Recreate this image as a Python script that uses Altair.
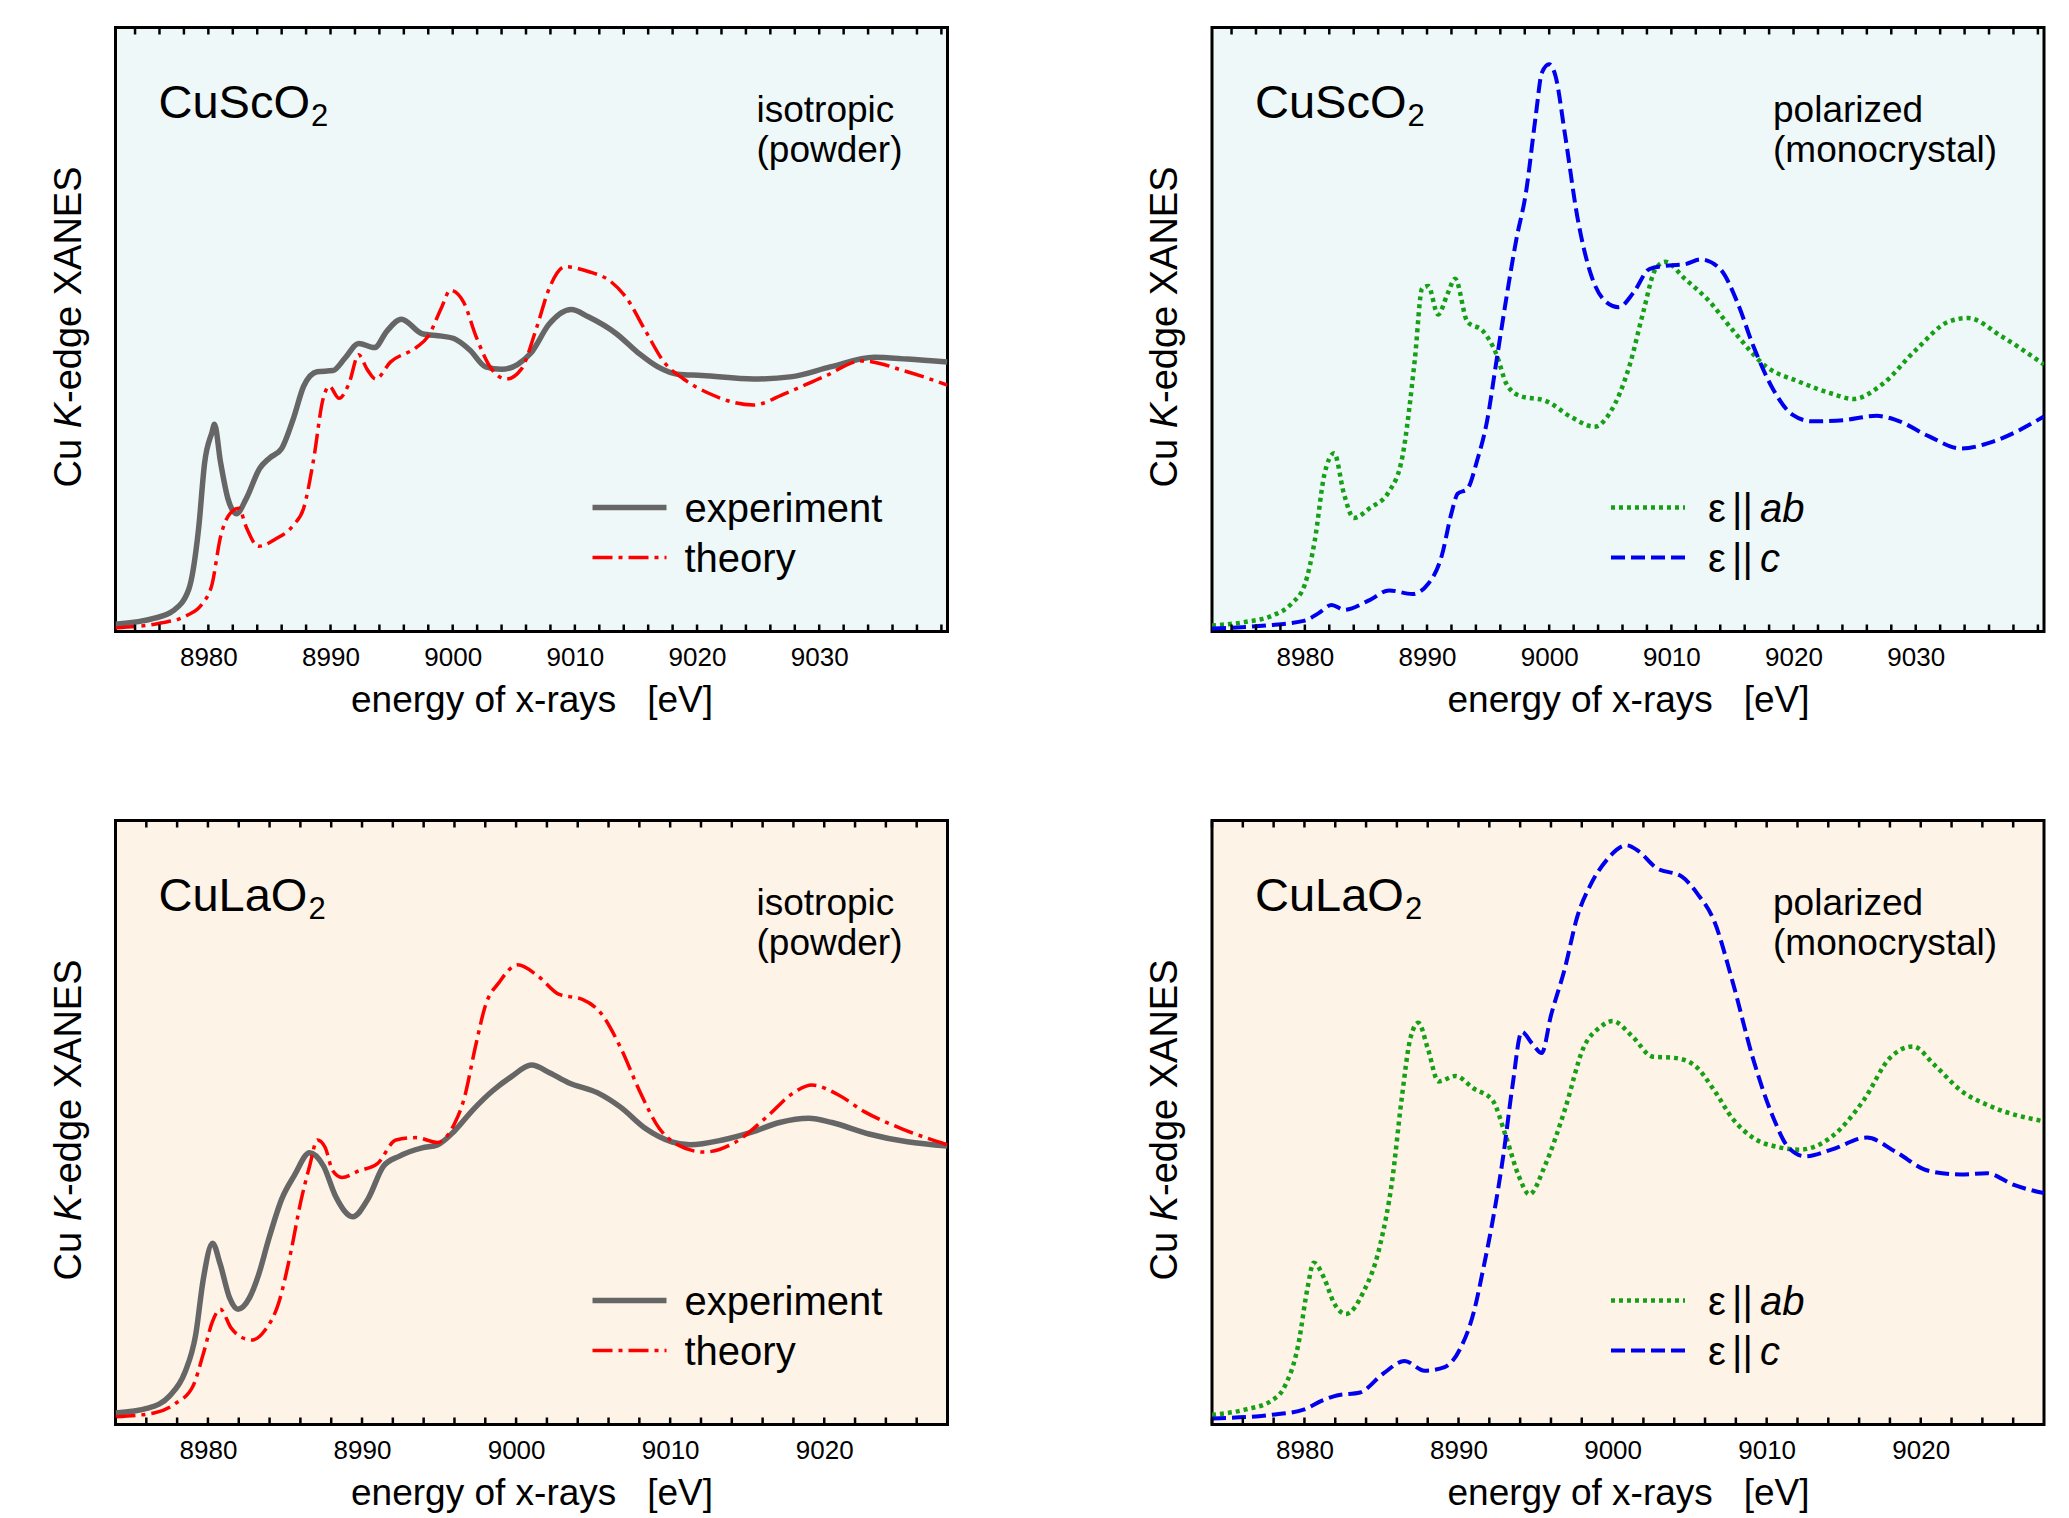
import altair as alt
import pandas as pd

# ---------------- data ----------------
top_domain = [8972.4, 9040.5]
bot_domain = [8974.0, 9028.0]
top_labels = [8980, 8990, 9000, 9010, 9020, 9030]
bot_labels = [8980, 8990, 9000, 9010, 9020]
top_ticks = list(range(8974, 9041, 2))
bot_ticks = list(range(8974, 9027, 2))

# CuScO2 isotropic: experiment
sc_exp_E = [8972.4, 8975.6, 8977.1, 8978.4, 8979.2, 8979.7, 8980.3, 8980.5, 8981.0, 8981.6,
            8982.3, 8983.1, 8984.2, 8985.0, 8986.0, 8987.0, 8987.8, 8988.9, 8990.2, 8991.2,
            8992.3, 8993.6, 8994.6, 8995.8, 8997.5, 8999.1, 9000.1, 9001.4, 9002.7, 9004.0,
            9005.3, 9006.4, 9007.9, 9009.7, 9011.1, 9013.4, 9015.2, 9016.8, 9018.4, 9020.4,
            9024.6, 9027.8, 9030.9, 9034.5, 9037.2, 9040.5]
sc_exp_I = [0.012, 0.022, 0.034, 0.070, 0.170, 0.280, 0.330, 0.343, 0.280, 0.220,
            0.195, 0.220, 0.270, 0.287, 0.303, 0.355, 0.406, 0.430, 0.432, 0.453,
            0.477, 0.470, 0.497, 0.517, 0.493, 0.489, 0.485, 0.466, 0.438, 0.434,
            0.442, 0.461, 0.509, 0.533, 0.521, 0.493, 0.461, 0.438, 0.426, 0.424,
            0.418, 0.422, 0.438, 0.454, 0.451, 0.446]
# CuScO2 isotropic: theory
sc_th_E = [8972.4, 8976.1, 8978.2, 8979.5, 8980.3, 8981.0, 8981.8, 8982.5, 8983.1, 8984.1,
           8985.5, 8987.0, 8987.8, 8988.6, 8989.4, 8989.9, 8990.7, 8991.5, 8992.3, 8993.0,
           8993.7, 8994.9, 8997.0, 8998.0, 8999.1, 8999.8, 9000.9, 9001.9, 9003.2, 9004.4,
           9005.6, 9006.9, 9007.9, 9009.2, 9011.1, 9012.9, 9014.2, 9015.8, 9017.3, 9018.9,
           9021.0, 9024.6, 9027.2, 9030.4, 9033.5, 9037.2, 9040.5]
sc_th_I = [0.006, 0.014, 0.026, 0.046, 0.078, 0.157, 0.196, 0.204, 0.173, 0.141,
           0.153, 0.177, 0.204, 0.283, 0.386, 0.406, 0.386, 0.410, 0.458, 0.434,
           0.418, 0.446, 0.470, 0.489, 0.537, 0.565, 0.545, 0.489, 0.434, 0.418,
           0.434, 0.505, 0.568, 0.604, 0.596, 0.580, 0.553, 0.497, 0.446, 0.418,
           0.394, 0.375, 0.394, 0.422, 0.448, 0.430, 0.408]
# CuScO2 polarized: e || ab
sc_ab_E = [8972.4, 8975.2, 8977.3, 8978.9, 8980.0, 8980.8, 8981.6, 8982.4, 8983.2, 8984.0,
           8985.3, 8986.9, 8988.0, 8989.0, 8989.6, 8990.1, 8990.9, 8991.7, 8992.3, 8993.3,
           8994.6, 8995.7, 8996.5, 8997.6, 8999.7, 9001.8, 9003.7, 9005.0, 9006.6, 9007.7,
           9008.7, 9009.5, 9011.1, 9013.0, 9015.1, 9017.8, 9020.4, 9023.1, 9024.9, 9027.3,
           9030.0, 9032.7, 9034.3, 9037.0, 9040.5]
sc_ab_I = [0.010, 0.016, 0.026, 0.046, 0.078, 0.149, 0.260, 0.295, 0.228, 0.188,
           0.204, 0.232, 0.291, 0.450, 0.568, 0.572, 0.525, 0.560, 0.584, 0.513,
           0.497, 0.458, 0.410, 0.390, 0.382, 0.355, 0.339, 0.363, 0.442, 0.529,
           0.600, 0.612, 0.584, 0.549, 0.497, 0.438, 0.414, 0.394, 0.385, 0.410,
           0.466, 0.513, 0.519, 0.489, 0.442]
# CuScO2 polarized: e || c
sc_c_E = [8972.4, 8976.8, 8980.0, 8981.1, 8982.2, 8983.2, 8985.3, 8986.9, 8988.8, 8990.1,
          8991.2, 8992.0, 8992.5, 8993.3, 8994.1, 8994.9, 8995.7, 8996.5, 8997.3, 8998.1,
          8998.9, 8999.4, 9000.0, 9000.5, 9001.3, 9002.3, 9003.4, 9004.7, 9005.7, 9006.9,
          9008.2, 9009.8, 9011.1, 9012.4, 9014.0, 9015.4, 9016.7, 9018.3, 9019.9, 9021.5,
          9024.1, 9026.8, 9028.4, 9031.1, 9033.7, 9036.4, 9040.5]
sc_c_I = [0.005, 0.010, 0.018, 0.030, 0.044, 0.036, 0.052, 0.068, 0.062, 0.079,
          0.125, 0.196, 0.228, 0.236, 0.283, 0.347, 0.450, 0.553, 0.648, 0.727,
          0.854, 0.925, 0.939, 0.921, 0.822, 0.687, 0.592, 0.545, 0.537, 0.561,
          0.600, 0.606, 0.608, 0.616, 0.600, 0.545, 0.473, 0.402, 0.359, 0.348,
          0.350, 0.357, 0.350, 0.323, 0.303, 0.315, 0.356]
# CuLaO2 isotropic: experiment
la_exp_E = [8974.0, 8976.1, 8977.5, 8978.5, 8979.2, 8979.7, 8980.3, 8980.8, 8981.4, 8981.95,
            8982.7, 8983.3, 8983.9, 8984.8, 8985.6, 8986.6, 8987.5, 8988.3, 8989.4, 8990.4,
            8991.4, 8992.4, 8993.9, 8994.9, 8996.0, 8997.2, 8998.5, 8999.7, 9001.0, 9002.2,
            9003.4, 9005.3, 9006.8, 9008.4, 9010.1, 9011.3, 9013.4, 9015.3, 9017.1, 9019.0,
            9020.5, 9022.9, 9025.4, 9028.0]
la_exp_I = [0.019, 0.027, 0.047, 0.086, 0.148, 0.241, 0.300, 0.265, 0.210, 0.191,
            0.210, 0.249, 0.303, 0.374, 0.412, 0.450, 0.428, 0.377, 0.344, 0.374,
            0.428, 0.444, 0.458, 0.463, 0.486, 0.521, 0.553, 0.576, 0.595, 0.582,
            0.566, 0.549, 0.525, 0.490, 0.468, 0.463, 0.471, 0.484, 0.500, 0.507,
            0.500, 0.481, 0.468, 0.461]
# CuLaO2 isotropic: theory
la_th_E = [8974.0, 8976.5, 8977.9, 8979.0, 8979.7, 8980.3, 8980.8, 8981.5, 8982.2, 8982.9,
           8983.7, 8984.6, 8985.4, 8986.0, 8986.6, 8987.1, 8987.6, 8988.1, 8988.7, 8989.8,
           8991.0, 8992.2, 8993.5, 8994.9, 8996.0, 8996.6, 8997.4, 8998.0, 8998.9, 9000.1,
           9001.4, 9002.8, 9004.3, 9005.5, 9006.8, 9008.0, 9009.3, 9010.5, 9012.2, 9014.2,
           9016.3, 9018.0, 9019.2, 9020.9, 9022.6, 9025.0, 9028.0]
la_th_I = [0.013, 0.019, 0.035, 0.062, 0.117, 0.171, 0.191, 0.160, 0.144, 0.140,
           0.156, 0.202, 0.288, 0.366, 0.428, 0.471, 0.459, 0.420, 0.409, 0.420,
           0.432, 0.471, 0.475, 0.467, 0.498, 0.537, 0.630, 0.693, 0.732, 0.761,
           0.743, 0.712, 0.704, 0.681, 0.623, 0.553, 0.490, 0.463, 0.451, 0.467,
           0.510, 0.549, 0.562, 0.546, 0.518, 0.490, 0.463]
# CuLaO2 polarized: e || ab
la_ab_E = [8974.0, 8976.2, 8977.9, 8978.7, 8979.6, 8980.2, 8980.6, 8981.3, 8981.9, 8982.7,
           8983.8, 8984.9, 8985.7, 8986.3, 8986.9, 8987.4, 8988.0, 8988.7, 8989.8, 8991.0,
           8992.2, 8993.1, 8993.9, 8994.6, 8995.6, 8996.9, 8998.1, 8999.2, 9000.0, 9001.3,
           9002.6, 9004.0, 9005.3, 9006.6, 9007.8, 9009.1, 9010.8, 9012.1, 9014.2, 9016.3,
           9018.0, 9019.5, 9020.9, 9022.6, 9024.7, 9028.0]
la_ab_I = [0.016, 0.025, 0.040, 0.062, 0.132, 0.226, 0.268, 0.241, 0.202, 0.183,
           0.218, 0.296, 0.405, 0.537, 0.642, 0.665, 0.623, 0.568, 0.577, 0.556,
           0.537, 0.475, 0.412, 0.381, 0.428, 0.521, 0.623, 0.658, 0.668, 0.642,
           0.609, 0.607, 0.595, 0.553, 0.506, 0.475, 0.459, 0.455, 0.476, 0.537,
           0.607, 0.626, 0.595, 0.553, 0.525, 0.502]
# CuLaO2 polarized: e || c
la_c_E = [8974.0, 8977.9, 8980.0, 8981.1, 8982.1, 8983.6, 8985.1, 8986.5, 8987.8, 8989.1,
          8990.1, 8991.0, 8991.6, 8992.2, 8992.9, 8993.5, 8994.1, 8994.8, 8995.4, 8996.0,
          8996.9, 8997.7, 8998.6, 8999.6, 9000.9, 9001.7, 9002.8, 9004.5, 9005.5, 9006.6,
          9007.8, 9009.1, 9010.4, 9011.4, 9012.5, 9014.2, 9016.5, 9018.4, 9020.5, 9022.6,
          9024.3, 9026.0, 9028.0]
la_c_I = [0.010, 0.016, 0.025, 0.039, 0.048, 0.053, 0.084, 0.105, 0.089, 0.095,
          0.125, 0.187, 0.257, 0.335, 0.444, 0.560, 0.650, 0.630, 0.615, 0.677,
          0.755, 0.840, 0.895, 0.934, 0.959, 0.949, 0.922, 0.907, 0.879, 0.833,
          0.732, 0.607, 0.510, 0.459, 0.444, 0.455, 0.475, 0.451, 0.420, 0.414,
          0.416, 0.397, 0.383]

# ---------------- styling ----------------
FONT = "Liberation Sans"
PW, PH = 832, 604
BG_TOP = "#eff8f8"
BG_BOT = "#fdf3e6"
GRAY, RED, GREEN, BLUE = "#666666", "#ff0000", "#17a017", "#0000ee"
STY = {
    "exp": dict(color=GRAY, strokeWidth=5.5),
    "th": dict(color=RED, strokeWidth=3.5, strokeDash=[20, 6, 4, 6]),
    "ab": dict(color=GREEN, strokeWidth=4.5, strokeDash=[4, 4]),
    "c": dict(color=BLUE, strokeWidth=4, strokeDash=[14, 6]),
}
one = pd.DataFrame({"a": [0]})


def xenc(domain, labels):
    return alt.X(
        "E:Q",
        scale=alt.Scale(domain=domain, nice=False, zero=False),
        axis=alt.Axis(
            title="energy of x-rays\u00a0\u00a0\u00a0[eV]",
            values=labels, format="d", ticks=False, domain=False, grid=False,
            labelFont=FONT, labelFontSize=26, labelColor="black", labelPadding=13,
            labelFlush=False, labelOverlap=False,
            titleFont=FONT, titleFontSize=37, titleFontWeight="normal",
            titleColor="black", titlePadding=12,
        ),
    )


YENC = alt.Y("I:Q", scale=alt.Scale(domain=[0, 1], nice=False, zero=False), axis=None)


def curve(E, I, key, X):
    st = dict(STY[key])
    return alt.Chart(pd.DataFrame({"E": E, "I": I})).mark_line(
        interpolate="monotone", clip=True, strokeCap="butt", **st
    ).encode(x=X, y=YENC)


def text(t, x, y, size, italic=False, angle=None, baseline="alphabetic"):
    kw = dict(text=t, font=FONT, fontSize=size, align="left", baseline=baseline, color="black")
    if italic:
        kw["fontStyle"] = "italic"
    if angle is not None:
        kw["angle"] = angle
    return alt.Chart(one).mark_text(**kw).encode(x=alt.value(x), y=alt.value(y))


def legline(key, x1, x2, y):
    st = dict(STY[key])
    return alt.Chart(one).mark_rule(strokeCap="butt", **st).encode(
        x=alt.value(x1), x2=alt.value(x2), y=alt.value(y))


def panel(curves, domain, labels, ticks, bg, compound, notes, note_x, legend, legend_x, polarized):
    X = xenc(domain, labels)
    layers = [curve(E, I, k, X) for (E, I, k) in curves]
    tdf = pd.DataFrame({"E": ticks})
    layers.append(alt.Chart(tdf).mark_rule(color="black", strokeWidth=2.5).encode(
        x=X, y=alt.value(0), y2=alt.value(7)))
    layers.append(alt.Chart(tdf).mark_rule(color="black", strokeWidth=2.5).encode(
        x=X, y=alt.value(PH), y2=alt.value(PH - 7)))
    # compound label with subscript
    name, width = compound
    layers.append(text(name, 43, 90, 47))
    layers.append(text("2", 43 + width + 1, 98, 31))
    # notes
    layers.append(text(notes[0], note_x, 94, 37))
    layers.append(text(notes[1], note_x, 134, 37))
    # y-axis title "Cu K-edge XANES" with italic K
    fs = 38
    y0 = 460
    layers.append(text("Cu", -46, y0, fs, angle=270, baseline="middle"))
    layers.append(text("K", -46, y0 - 1.556 * fs, fs, italic=True, angle=270, baseline="middle"))
    layers.append(text("-edge XANES", -46, y0 - 2.223 * fs, fs, angle=270, baseline="middle"))
    # legend
    rows = [480, 530]
    for (key, lab), ly in zip(legend, rows):
        layers.append(legline(key, legend_x, legend_x + 74, ly))
        if polarized:
            layers.append(text("\u03b5", legend_x + 97, ly + 14, 40))
            layers.append(text("||", legend_x + 121, ly + 14, 40))
            layers.append(text(lab, legend_x + 149, ly + 14, 40, italic=True))
        else:
            layers.append(text(lab, legend_x + 92, ly + 14, 40))
    return alt.layer(*layers).properties(
        width=PW, height=PH,
        view=alt.ViewBackground(fill=bg, stroke="black", strokeWidth=3),
    )


p1 = panel([(sc_exp_E, sc_exp_I, "exp"), (sc_th_E, sc_th_I, "th")], top_domain, top_labels, top_ticks,
           BG_TOP, ("CuScO", 151.5), ("isotropic", "(powder)"), 641,
           [("exp", "experiment"), ("th", "theory")], 477, False)
p2 = panel([(sc_ab_E, sc_ab_I, "ab"), (sc_c_E, sc_c_I, "c")], top_domain, top_labels, top_ticks,
           BG_TOP, ("CuScO", 151.5), ("polarized", "(monocrystal)"), 561,
           [("ab", "ab"), ("c", "c")], 399, True)
p3 = panel([(la_exp_E, la_exp_I, "exp"), (la_th_E, la_th_I, "th")], bot_domain, bot_labels, bot_ticks,
           BG_BOT, ("CuLaO", 149.0), ("isotropic", "(powder)"), 641,
           [("exp", "experiment"), ("th", "theory")], 477, False)
p4 = panel([(la_ab_E, la_ab_I, "ab"), (la_c_E, la_c_I, "c")], bot_domain, bot_labels, bot_ticks,
           BG_BOT, ("CuLaO", 149.0), ("polarized", "(monocrystal)"), 561,
           [("ab", "ab"), ("c", "c")], 399, True)

chart = alt.vconcat(
    alt.hconcat(p1, p2, spacing=195.5),
    alt.hconcat(p3, p4, spacing=195.5),
    spacing=97,
).properties(
    padding={"left": 40.5, "top": 16.5, "right": 10, "bottom": 10},
    background="white",
)

chart.save("out.html", embed_options={"renderer": "svg", "actions": False})
